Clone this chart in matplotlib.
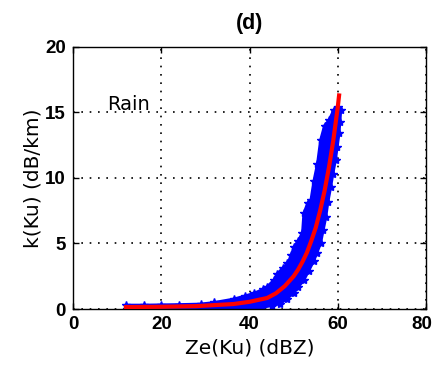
import numpy as np
import matplotlib
matplotlib.use('Agg')
import matplotlib.pyplot as plt
from matplotlib.transforms import ScaledTranslation

# scatter cloud outline: left/upper edge going up, right/lower edge coming back down
upper_dbz = [12.0, 16.0, 20.0, 24.0, 28.9, 32.0, 36.4, 39.0, 41.0, 43.0, 44.0, 45.5, 46.3,
             47.5, 48.6, 49.5, 50.0, 51.0, 52.0, 52.3, 53.2, 53.9, 54.6, 55.4, 56.1, 57.0,
             58.0, 59.1, 60.0]
upper_k = [0.30, 0.30, 0.32, 0.34, 0.38, 0.50, 0.76, 1.00, 1.20, 1.50, 1.70, 2.20, 2.70,
           3.10, 3.50, 4.10, 4.70, 5.20, 5.80, 7.30, 8.10, 8.30, 9.80, 11.1, 12.9, 14.0,
           14.4, 15.2, 15.4]
lower_dbz = [60.7, 60.5, 60.3, 59.9, 59.5, 58.9, 58.4, 57.8, 57.3, 56.7, 56.1, 55.3, 54.6,
             53.4, 52.3, 51.1, 50.0, 48.5, 47.0, 45.0, 42.5, 38.0, 35.0, 30.0, 24.0, 18.0,
             12.0]
lower_k = [15.2, 14.3, 13.4, 12.4, 11.4, 10.3, 9.3, 8.2, 7.0, 6.0, 5.0, 4.3, 3.7,
           2.9, 2.2, 1.7, 1.2, 0.8, 0.4, 0.25, 0.10, 0.03, 0.0, -0.05, -0.05, -0.05,
           -0.05]

# fitted k-Ze relation
fit_dbz = [12.0, 20.0, 28.0, 36.4, 40.0, 44.0, 46.0, 48.0, 50.0, 51.0, 52.0, 53.0, 54.0,
           55.0, 56.0, 57.0, 58.0, 59.0, 60.0, 60.3]
fit_k = [0.15, 0.17, 0.22, 0.38, 0.55, 0.84, 1.20, 1.75, 2.50, 3.00, 3.60, 4.30, 5.20,
         6.20, 7.50, 9.00, 10.8, 12.9, 15.4, 16.3]

fig = plt.figure(figsize=(4.34, 3.75), dpi=100)
ax = fig.add_axes([0.1682, 0.176, 0.8134, 0.6987])

cloud_x = upper_dbz + lower_dbz
cloud_y = upper_k + lower_k
ax.fill(cloud_x, cloud_y, color='blue', lw=2, zorder=2)
ax.plot(cloud_x, cloud_y, '*', color='blue', ms=6, mew=1, zorder=2)

ax.plot(fit_dbz, fit_k, '-', color='red', lw=3, zorder=3)

ax.set_xlim(0, 80)
ax.set_ylim(0, 20)
ax.set_xticks([0, 20, 40, 60, 80])
ax.set_yticks([0, 5, 10, 15, 20])
ax.grid(True, color='black', linestyle=(0, (1, 4)), linewidth=1.2)
ax.set_axisbelow(True)

ax.tick_params(direction='in', length=4, width=1, top=True, right=True, pad=5)
for lab in ax.get_xticklabels() + ax.get_yticklabels():
    lab.set_fontfamily('Liberation Sans')
    lab.set_fontweight('bold')
    lab.set_fontsize(13.5)
# pull the last x label in a little so it stays inside the figure
last = ax.get_xticklabels()[-1]
last.set_transform(last.get_transform() + ScaledTranslation(-4 / 100, 0, fig.dpi_scale_trans))
for sp in ax.spines.values():
    sp.set_linewidth(1.0)

ax.set_xlabel('Ze(Ku) (dBZ)', fontsize=14.5, family='DejaVu Sans', labelpad=4)
ax.set_ylabel('k(Ku) (dB/km)', fontsize=14.5, family='DejaVu Sans', labelpad=2)
ax.set_title('(d)', fontsize=15.5, family='Liberation Sans', fontweight='bold', pad=13)
ax.text(7.7, 15.6, 'Rain', fontsize=14, family='DejaVu Sans', va='center')

fig.savefig('out.png', dpi=100)
